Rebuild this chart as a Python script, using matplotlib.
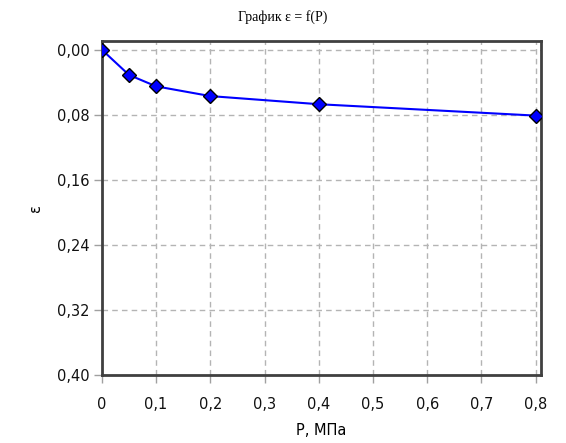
import matplotlib
matplotlib.use("Agg")
import matplotlib.pyplot as plt
from matplotlib.ticker import FuncFormatter

# данные графика
P = [0.0, 0.05, 0.1, 0.2, 0.4, 0.8]
eps = [0.0, 0.031, 0.045, 0.057, 0.067, 0.081]
xticks = [0, 0.1, 0.2, 0.3, 0.4, 0.5, 0.6, 0.7, 0.8]
yticks = [0.0, 0.08, 0.16, 0.24, 0.32, 0.40]

fig = plt.figure(figsize=(5.66, 4.43), dpi=100)
ax = fig.add_axes([0.18, 0.1535, 0.775, 0.7535])

ax.plot(P, eps, color="#0000ff", lw=1.5, marker="D", ms=7,
        mfc="#0000ff", mec="black", mew=1.0, zorder=3)

ax.set_xlim(0, 0.809)
ax.set_ylim(0.396, -0.0105)
ax.set_xticks(xticks)
ax.set_yticks(yticks)


def fmt_x(v, pos):
    return "0" if v == 0 else "{:.1f}".format(v).replace(".", ",")


ax.xaxis.set_major_formatter(FuncFormatter(fmt_x))
ax.yaxis.set_major_formatter(FuncFormatter(lambda v, p: "{:.2f}".format(v).replace(".", ",")))

ax.grid(True, color="#b4b4b4", ls=(0, (4, 3)), lw=1.0)
for s in ax.spines.values():
    s.set_color("#404040")
    s.set_linewidth(2)
ax.tick_params(direction="out", length=6, width=1, color="#a0a0a0",
               labelsize=10.5, labelcolor="#111111")
ax.tick_params(axis="x", pad=10)
ax.tick_params(axis="y", pad=3)

ax.set_xlabel("P, МПа", fontsize=10.5, labelpad=8)
ax.set_ylabel("ε", fontsize=10.5, labelpad=10)
fig.text(0.5, 0.962, "График ε = f(P)", fontsize=10, family="Liberation Serif",
         ha="center", va="center")

fig.savefig("out.png", dpi=100)
